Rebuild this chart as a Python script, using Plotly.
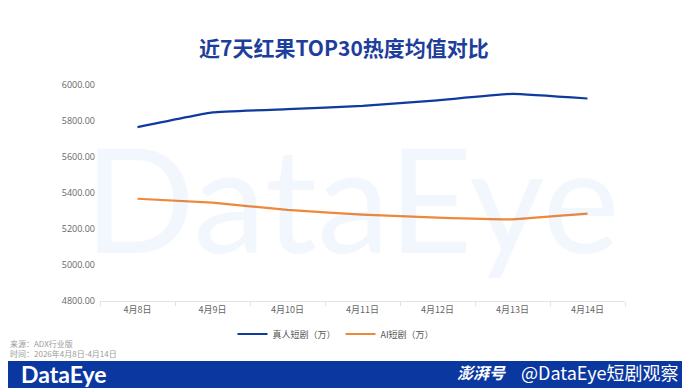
import plotly.graph_objects as go

dates = ["4月8日", "4月9日", "4月10日", "4月11日", "4月12日", "4月13日", "4月14日"]
real_drama = [5766, 5848, 5866, 5884, 5915, 5951, 5925]
ai_drama = [5368, 5346, 5306, 5280, 5263, 5254, 5285]
series_names = ["真人短剧（万）", "AI短剧（万）"]
y_ticks = [4800, 5000, 5200, 5400, 5600, 5800, 6000]

W, H = 690, 388
OFF = 8  # page body margin offset
L, R, T, B = 92, 73, 77, 95
plot_w = W - L - R
plot_h = H - T - B


def py(p):
    # screen pixel y -> paper y
    return (H - B - (p - OFF)) / plot_h


def px(p):
    # screen pixel x -> paper x
    return (p - OFF - L) / plot_w


fig = go.Figure()
fig.add_trace(go.Scatter(x=dates, y=real_drama, name=series_names[0], mode="lines",
                         line=dict(color="#0f3aa0", width=2.2, shape="spline", smoothing=0.3)))
fig.add_trace(go.Scatter(x=dates, y=ai_drama, name=series_names[1], mode="lines",
                         line=dict(color="#f0883a", width=2.2, shape="spline", smoothing=0.3)))

# footer bar with rounded corners (screen coords)
x0, x1, y0, y1, r = 8, 688, 361, 392, 5
path = (f"M {px(x0)},{py(y0)} L {px(x1-r)},{py(y0)} Q {px(x1)},{py(y0)} {px(x1)},{py(y0+r)} "
        f"L {px(x1)},{py(y1)} L {px(x0)},{py(y1)} Z")
shapes = [dict(type="path", path=path, xref="paper", yref="paper",
               fillcolor="#0b37a0", line=dict(width=0), layer="above")]

annotations = [
    # watermark
    dict(text="DataEye", x=px(352), y=py(196), xref="paper", yref="paper", showarrow=False,
         font=dict(family="Lato, Inter, sans-serif", size=146, color="rgba(40,120,220,0.06)"),
         xanchor="center", yanchor="middle"),
    dict(text="<b>近7天红果TOP30热度均值对比</b>", x=px(344), y=py(47), xref="paper", yref="paper",
         showarrow=False, xanchor="center", yanchor="middle",
         font=dict(family="Noto Sans CJK SC", size=21, color="#1d3e9a")),
    dict(text="来源：ADX行业版", x=px(8), y=py(343), xref="paper", yref="paper", showarrow=False,
         xanchor="left", yanchor="middle", font=dict(family="Noto Sans CJK SC", size=8, color="#9a9a9a")),
    dict(text="时间：2026年4月8日-4月14日", x=px(8), y=py(353), xref="paper", yref="paper", showarrow=False,
         xanchor="left", yanchor="middle", font=dict(family="Noto Sans CJK SC", size=8, color="#9a9a9a")),
    dict(text="<b>DataEye</b>", x=px(19), y=py(374), xref="paper", yref="paper", showarrow=False,
         xanchor="left", yanchor="middle", font=dict(family="Lato, sans-serif", size=23, color="white")),
    dict(text="<b><i>澎湃号</i></b>", x=px(508), y=py(372), xref="paper", yref="paper", showarrow=False,
         xanchor="right", yanchor="middle", font=dict(family="Noto Sans CJK SC", size=16, color="white")),
    dict(text="@DataEye短剧观察", x=px(680), y=py(372), xref="paper", yref="paper", showarrow=False,
         xanchor="right", yanchor="middle", font=dict(family="Noto Sans CJK SC", size=18, color="white")),
]

fig.update_layout(
    width=W, height=H,
    margin=dict(l=L, r=R, t=T, b=B, autoexpand=False),
    paper_bgcolor="white", plot_bgcolor="rgba(0,0,0,0)",
    showlegend=True,
    legend=dict(orientation="h", x=px(336), y=py(334), xanchor="center", yanchor="middle",
                font=dict(family="Noto Sans CJK SC", size=9, color="#555555"),
                itemwidth=30, tracegroupgap=0, bgcolor="rgba(0,0,0,0)"),
    shapes=shapes,
    annotations=annotations,
    font=dict(family="Noto Sans CJK SC"),
)
fig.update_xaxes(type="category", range=[-0.5, 6.5], showgrid=False, showline=True,
                 linecolor="#e3e3e3", linewidth=1,
                 ticks="outside", tickson="boundaries", ticklen=4, tickcolor="#e3e3e3",
                 tickfont=dict(size=9, color="#666666"), zeroline=False, fixedrange=True)
fig.update_yaxes(range=[4800, 6000], tickvals=y_ticks, tickformat=".2f", showgrid=False,
                 zeroline=False, showline=False, ticks="", ticklabelstandoff=4,
                 tickfont=dict(family="Open Sans, sans-serif", size=9, color="#666666"))

fig.write_html("out.html")
